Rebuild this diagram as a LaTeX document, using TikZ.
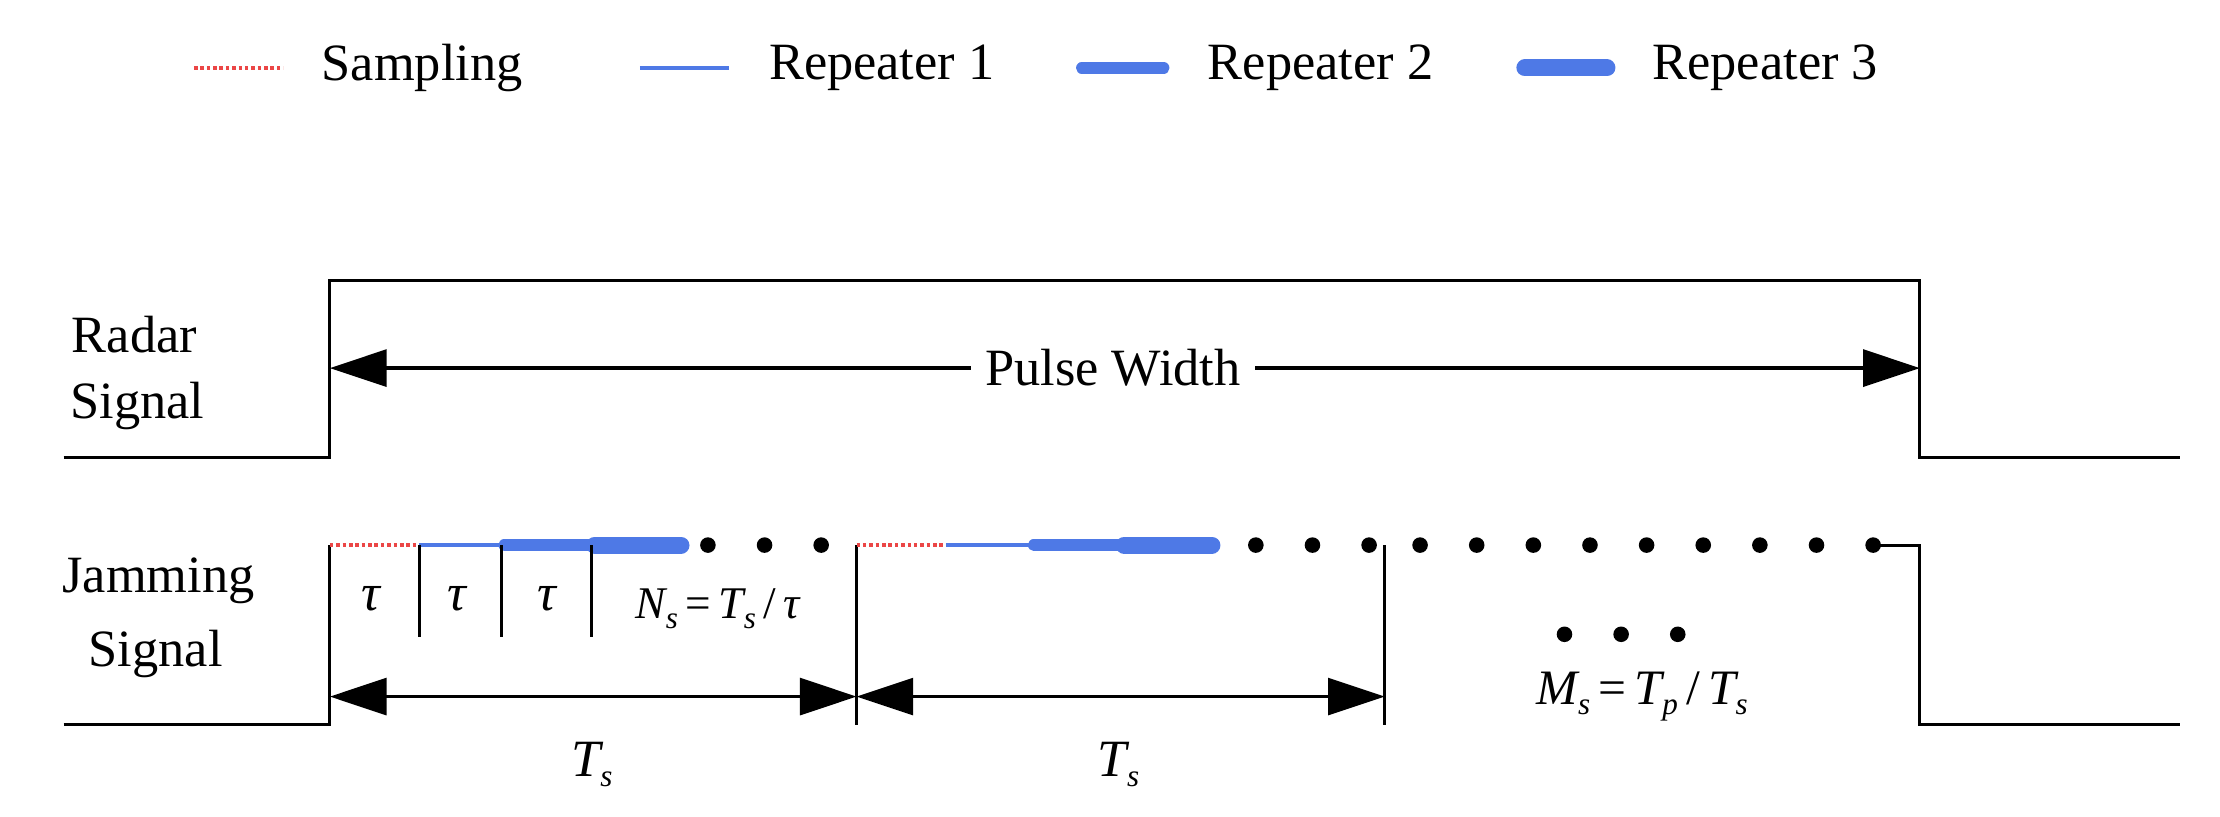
\documentclass[tikz,border=0pt]{standalone}
\usepackage{fontspec}
\setmainfont{Liberation Serif}
\usetikzlibrary{arrows.meta}
\newcommand{\sub}[1]{\raisebox{-7pt}{\fontsize{22}{24}\selectfont\itshape #1}}
\begin{document}
\begin{tikzpicture}[x=1pt,y=-1pt,
  sig/.style={line width=2.2pt},
  tick/.style={line width=2pt},
  samp/.style={color={rgb,255:red,235;green,70;blue,70},dotted,line width=2.5pt},
  rep1/.style={line width=3pt,color={rgb,255:red,78;green,121;blue,230}},
  rep2/.style={line width=8pt,line cap=round,color={rgb,255:red,78;green,121;blue,230}},
  rep3/.style={line width=12pt,line cap=round,color={rgb,255:red,78;green,121;blue,230}},
  dim/.style={line width=2.5pt,{Triangle[length=40pt,width=26pt]}-{Triangle[length=40pt,width=26pt]}},
  dot/.style={circle,fill=black,inner sep=0pt,minimum size=11pt},
  txt/.style={font=\fontsize{37}{42}\selectfont,inner sep=0pt},
  math/.style={font=\fontsize{37}{42}\selectfont\itshape,inner sep=0pt}]
\useasboundingbox (0,0) rectangle (1568,577);
% legend
\draw[samp] (137,48) -- (200,48);
\node[txt,anchor=west] (ls) at (227,48) {Sampling};
\draw[rep1] (452,48) -- (515,48);
\node[txt,anchor=west] (l1) at (543,48) {Repeater 1};
\draw[rep2] (764,48) -- (822,48);
\node[txt,anchor=west] (l2) at (853,48) {Repeater 2};
\draw[rep3] (1077,48) -- (1135,48);
\node[txt,anchor=west] (l3) at (1167,48) {Repeater 3};
% radar
\node[txt] (r1) at (95,236) {Radar};
\node[txt] (r2) at (97,287) {Signal};
\coordinate (ra) at (233,198); \coordinate (rb) at (1356,198);
\draw[sig] (45,323) -- (233,323) -- (ra) -- (rb) -- (1356,323) -- (1540,323);
\draw[dim] (ra|-0,260) -- (rb|-0,260);
\node[txt,fill=white,inner xsep=10pt] (pw) at (786,260) {Pulse Width};
% jamming
\node[txt] (j1) at (112,410) {Jamming};
\node[txt] (j2) at (110,462) {Signal};
\draw[sig] (45,512) -- (233,512) -- (233,385);
\draw[sig] (1325,385) -- (1356,385) -- (1356,512) -- (1540,512);
% segment 1
\draw[samp] (233,385) -- (296,385);
\draw[rep1] (296,385) -- (356,385);
\draw[rep2] (356,385) -- (420,385);
\draw[rep3] (420,385) -- (481,385);
\foreach \x in {500,540,580} \node[dot] at (\x,385) {};
\foreach \x in {296,354,418} \draw[tick] (\x,385) -- (\x,450);
\node[math] (t1) at (262,423) {τ};
\node[math] (t2) at (323,423) {τ};
\node[math] (t3) at (386,423) {τ};
\node[math,font=\fontsize{32}{36}\selectfont\itshape] (ns) at (507,430) {N\sub{s}\,\upshape{=}\,\itshape T\sub{s}\,\upshape{/}\,\itshape τ};
\coordinate (v1) at (605,385); \draw[tick] (v1) -- (605,512);
\draw[dim] (233,492) -- (605,492);
\node[math] (ts1) at (418,540) {T\sub{s}};
% segment 2
\draw[samp] (605,385) -- (668,385);
\draw[rep1] (668,385) -- (730,385);
\draw[rep2] (730,385) -- (794,385);
\draw[rep3] (794,385) -- (856,385);
\foreach \x in {887,927,967} \node[dot] at (\x,385) {};
\draw[tick] (978,385) -- (978,512);
\draw[dim] (605,492) -- (978,492);
\node[math] (ts2) at (790,540) {T\sub{s}};
\foreach \x in {1003,1043,...,1323} \node[dot] at (\x,385) {};
\foreach \x in {1105,1145,1185} \node[dot] at (\x,448) {};
\node[math,font=\fontsize{35}{38}\selectfont\itshape] (ms) at (1160,492) {M\sub{s}\,\upshape{=}\,\itshape T\sub{p}\,\upshape{/}\,\itshape T\sub{s}};
\end{tikzpicture}
\end{document}
